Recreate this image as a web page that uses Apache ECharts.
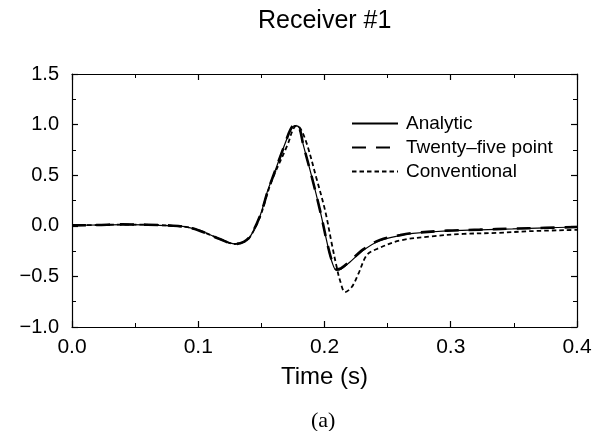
<!DOCTYPE html>
<html>
<head>
<meta charset="utf-8">
<script src="https://cdn.jsdelivr.net/npm/echarts@6/dist/echarts.min.js"></script>
<style>
html,body{margin:0;padding:0;background:#fff;}
#chart{width:602px;height:431px;}
</style>
</head>
<body>
<div id="chart"></div>
<script>
// Time (s) and values for each trace
var analyticT = [0, 0.02, 0.04, 0.06, 0.08, 0.09, 0.101, 0.117, 0.129, 0.136, 0.141, 0.149, 0.155, 0.159, 0.1687, 0.173, 0.1766, 0.180, 0.183, 0.190, 0.1965, 0.2023, 0.206, 0.2095, 0.213, 0.220, 0.231, 0.244, 0.26, 0.27, 0.297, 0.323, 0.349, 0.375, 0.4];
var analyticV = [0.005, 0.008, 0.012, 0.01, 0.0, -0.01, -0.046, -0.128, -0.178, -0.16, -0.11, 0.1, 0.35, 0.48, 0.81, 0.94, 0.99, 0.97, 0.81, 0.48, 0.15, -0.18, -0.36, -0.44, -0.43, -0.36, -0.24, -0.145, -0.096, -0.075, -0.05, -0.04, -0.03, -0.02, -0.012];

var twentyFiveT = [0, 0.02, 0.04, 0.06, 0.08, 0.09, 0.101, 0.117, 0.129, 0.136, 0.141, 0.149, 0.155, 0.159, 0.1687, 0.173, 0.1766, 0.180, 0.183, 0.190, 0.1965, 0.2023, 0.206, 0.2095, 0.213, 0.220, 0.231, 0.244, 0.26, 0.27, 0.297, 0.323, 0.349, 0.375, 0.4];
var twentyFiveV = [0.004, 0.008, 0.014, 0.011, 0.001, -0.012, -0.048, -0.13, -0.18, -0.158, -0.105, 0.1, 0.34, 0.48, 0.81, 0.95, 1.0, 0.97, 0.81, 0.48, 0.15, -0.18, -0.35, -0.43, -0.42, -0.35, -0.23, -0.14, -0.092, -0.072, -0.048, -0.038, -0.028, -0.02, -0.012];

var conventionalT = [0, 0.02, 0.04, 0.06, 0.08, 0.09, 0.101, 0.117, 0.129, 0.136, 0.141, 0.149, 0.155, 0.159, 0.171, 0.175, 0.178, 0.181, 0.186, 0.1934, 0.2005, 0.2058, 0.2097, 0.2123, 0.2163, 0.2216, 0.2268, 0.2335, 0.2413, 0.26, 0.284, 0.31, 0.337, 0.363, 0.4];
var conventionalV = [0.005, 0.008, 0.012, 0.01, 0.0, -0.01, -0.046, -0.13, -0.18, -0.16, -0.11, 0.09, 0.33, 0.47, 0.81, 0.95, 0.99, 0.96, 0.81, 0.48, 0.15, -0.18, -0.41, -0.54, -0.655, -0.605, -0.475, -0.29, -0.23, -0.145, -0.105, -0.08, -0.07, -0.053, -0.04];

var seriesNames = ['Analytic', 'Twenty\u2013five point', 'Conventional'];
var xTicks = [0.0, 0.1, 0.2, 0.3, 0.4];
var yTicks = [-1.0, -0.5, 0.0, 0.5, 1.0, 1.5];

function pairs(t, v) { return t.map(function (x, i) { return [x, v[i]]; }); }
function fmt(v) { return v.toFixed(1).replace('-', '\u2212'); }

var font = 'Liberation Sans, Arial, Helvetica, sans-serif';
var axisCommon = {
  axisLine: { show: true, onZero: false, lineStyle: { color: '#000', width: 1.2 } },
  axisTick: { show: true, inside: true, length: 6, lineStyle: { color: '#000', width: 1.2 } },
  minorTick: { show: true, splitNumber: 2, length: 4, lineStyle: { color: '#000', width: 1 } },
  splitLine: { show: false }
};

var chart = echarts.init(document.getElementById('chart'), null, { renderer: 'canvas' });
chart.setOption({
  animation: false,
  backgroundColor: '#fff',
  title: {
    text: 'Receiver #1', left: 253, top: 4,
    textStyle: { fontFamily: font, fontSize: 25, fontWeight: 'normal', color: '#000' }
  },
  legend: {
    orient: 'vertical', left: 346, top: 109, itemWidth: 46, itemHeight: 10, itemGap: 5,
    itemStyle: { opacity: 0 },
    textStyle: { fontFamily: font, fontSize: 19, color: '#000', padding: [0, 0, 0, 3] },
    data: seriesNames
  },
  grid: { left: 72, right: 25, top: 74, bottom: 104, containLabel: false },
  xAxis: [
    Object.assign({
      type: 'value', min: 0, max: 0.4, interval: 0.1, position: 'bottom',
      name: 'Time (s)', nameLocation: 'middle', nameGap: 38,
      nameTextStyle: { fontFamily: font, fontSize: 24, color: '#000' },
      axisLabel: { fontFamily: font, fontSize: 21, color: '#000', margin: 10, formatter: fmt, customValues: xTicks }
    }, axisCommon),
    Object.assign({
      type: 'value', min: 0, max: 0.4, interval: 0.1, position: 'top',
      axisLabel: { show: false }
    }, axisCommon)
  ],
  yAxis: [
    Object.assign({
      type: 'value', min: -1, max: 1.5, interval: 0.5, position: 'left',
      axisLabel: { fontFamily: font, fontSize: 20, color: '#000', margin: 13, formatter: fmt, customValues: yTicks }
    }, axisCommon),
    Object.assign({
      type: 'value', min: -1, max: 1.5, interval: 0.5, position: 'right',
      axisLabel: { show: false }
    }, axisCommon)
  ],
  graphic: [{
    type: 'text', left: 311, top: 410,
    style: { text: '(a)', font: '22px "Liberation Serif", "Times New Roman", serif', fill: '#000' }
  }],
  series: [
    {
      name: seriesNames[0], type: 'line', data: pairs(analyticT, analyticV),
      symbol: 'none', smooth: 0.35, xAxisIndex: 0, yAxisIndex: 0, z: 3,
      lineStyle: { color: '#000', width: 1.2, type: 'solid' }, itemStyle: { color: '#000' }
    },
    {
      name: seriesNames[1], type: 'line', data: pairs(twentyFiveT, twentyFiveV),
      symbol: 'none', smooth: 0.35, xAxisIndex: 0, yAxisIndex: 0, z: 2,
      lineStyle: { color: '#000', width: 2.6, type: [14, 10] }, itemStyle: { color: '#000' }
    },
    {
      name: seriesNames[2], type: 'line', data: pairs(conventionalT, conventionalV),
      symbol: 'none', smooth: 0.35, xAxisIndex: 0, yAxisIndex: 0, z: 2,
      lineStyle: { color: '#000', width: 1.8, type: [4.5, 3] }, itemStyle: { color: '#000' }
    }
  ]
});
</script>
</body>
</html>
